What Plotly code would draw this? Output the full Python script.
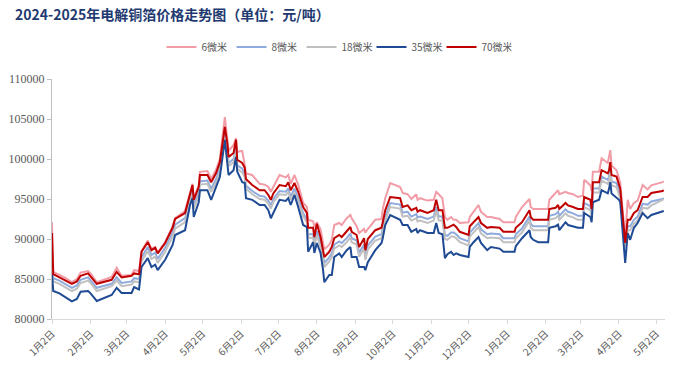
import plotly.graph_objects as go

dates = [
"2024-01-02","2024-01-03","2024-01-08","2024-01-12","2024-01-18","2024-01-22","2024-01-25","2024-01-31",
"2024-02-02","2024-02-07","2024-02-19","2024-02-23","2024-02-27","2024-03-06","2024-03-08","2024-03-12",
"2024-03-14","2024-03-19","2024-03-22","2024-03-25","2024-03-27","2024-04-02","2024-04-08","2024-04-10",
"2024-04-18","2024-04-22","2024-04-24","2024-04-25","2024-04-29","2024-04-30","2024-05-06","2024-05-09",
"2024-05-13","2024-05-16","2024-05-20","2024-05-22","2024-05-23","2024-05-27","2024-05-29","2024-05-30",
"2024-06-03","2024-06-05","2024-06-06","2024-06-11","2024-06-17","2024-06-21","2024-06-24","2024-06-26",
"2024-06-28","2024-07-03","2024-07-08","2024-07-10","2024-07-12","2024-07-15","2024-07-18","2024-07-22",
"2024-07-25","2024-07-26","2024-07-30","2024-07-31","2024-08-02","2024-08-05","2024-08-07","2024-08-08",
"2024-08-12","2024-08-14","2024-08-16","2024-08-20","2024-08-22","2024-08-26","2024-08-29","2024-08-30",
"2024-09-03","2024-09-05","2024-09-09","2024-09-10","2024-09-12","2024-09-18","2024-09-23","2024-09-24",
"2024-09-26","2024-09-30","2024-10-08","2024-10-10","2024-10-14","2024-10-17","2024-10-21","2024-10-22",
"2024-10-24","2024-10-30","2024-11-04","2024-11-06","2024-11-08","2024-11-11","2024-11-13","2024-11-15",
"2024-11-18","2024-11-20","2024-11-22","2024-11-25","2024-12-02","2024-12-03","2024-12-06","2024-12-10",
"2024-12-12","2024-12-17","2024-12-20","2024-12-27","2024-12-30","2025-01-08","2025-01-09","2025-01-14",
"2025-01-20","2025-01-21","2025-01-23","2025-01-27","2025-02-04","2025-02-05","2025-02-10","2025-02-12",
"2025-02-13","2025-02-18","2025-02-20","2025-02-24","2025-02-28","2025-03-04","2025-03-05","2025-03-10",
"2025-03-11","2025-03-12","2025-03-17","2025-03-19","2025-03-24","2025-03-25","2025-03-26","2025-03-27",
"2025-03-31","2025-04-02","2025-04-03","2025-04-07","2025-04-09","2025-04-11","2025-04-14","2025-04-17",
"2025-04-21","2025-04-25","2025-04-28","2025-05-07","2025-05-08",
]

um6 = [
92100,85900,85500,85200,84600,85000,85800,86000,
85700,84600,85250,86400,85400,85500,86100,86000,
88500,89800,88800,89000,88300,89600,91600,92600,
93500,96000,96900,95100,96700,98400,98500,97500,
98700,100000,105250,102500,101000,101750,102600,100900,
101000,99300,98200,98000,96900,96800,96500,95900,
96500,98000,97700,98000,96900,98000,96800,94500,
94000,92400,92200,91500,92100,91200,89500,88700,
89300,89900,91750,92000,91750,92600,93000,92600,
91600,90750,91250,90800,91250,92400,92500,93700,
95100,97000,96500,95750,95600,95000,95600,94900,
95100,94800,94900,95900,95600,95100,92750,92400,
92750,92400,92400,92000,92100,92750,93400,94250,
93400,92750,92750,92500,92100,92100,92750,94000,
95000,94000,93750,93750,93750,94900,95750,96100,
95600,95900,95750,95600,95250,95400,97400,96700,
96000,98400,98400,100100,99500,100200,101100,99200,
98600,97600,97000,90000,94900,93750,94500,94800,
96750,96200,96700,97100,97200,
]

um8 = [
87000,85100,84800,84400,83900,84200,84900,85200,
84800,83900,84400,85200,84500,84700,85100,85000,
87700,89000,88000,88300,87500,88900,90800,91800,
92600,95100,96000,94200,95800,97200,97300,96300,
97500,98900,103200,101200,99500,100000,101500,99200,
98800,98100,96700,96000,95400,95300,94800,94200,
95000,96000,95900,96300,95300,96300,95100,93200,
92500,90600,90600,89500,91000,89500,87900,87000,
87700,88200,89300,89700,89500,90100,90700,90100,
89800,88300,89300,87900,89200,90300,90600,91300,
92800,94500,94300,93300,93400,92800,93100,92700,
92800,92500,92800,94000,92800,92800,90500,90400,
90800,90800,90600,90100,89700,90800,91300,92000,
91200,90600,90700,90600,90100,90100,90600,91300,
92800,91900,91600,91600,91600,92900,93100,93400,
92900,93700,93400,93200,92900,92900,94500,94100,
93000,96300,96300,97800,97400,97800,98800,97200,
97000,96000,95500,89300,91600,91600,92400,92800,
94400,94300,94700,95000,95100,
]

um18 = [
86500,84700,84400,84000,83500,83800,84500,84800,
84500,83500,84100,84800,84100,84300,84700,84600,
87200,88500,87500,87800,87000,88400,90300,91300,
92100,94700,95600,93800,95400,96800,96900,95900,
97000,98400,102800,100800,99100,99600,101100,98800,
98300,97700,96300,95600,95000,94900,94400,93800,
94600,95600,95500,95900,94900,95800,94700,92800,
92100,90200,90100,89100,90500,89000,87400,86500,
87200,87700,88800,89200,89000,89600,90200,89600,
89300,87800,88800,87400,88700,89800,90100,90800,
92300,94000,93800,92800,92900,92300,92600,92200,
92300,92000,92300,93500,92300,92300,90000,89900,
90300,90300,90100,89600,89200,90300,90800,91500,
90700,90100,90200,90100,89600,89600,90100,90800,
92300,91400,91100,91100,91100,92400,92600,92900,
92400,93200,92900,92700,92400,92400,94000,93600,
92500,95800,95800,97300,96900,97300,98300,96700,
96500,95500,95000,89000,91100,91100,91900,92300,
93900,93800,94200,94900,95000,
]

um35 = [
85700,83500,83200,82800,82200,82500,83400,83500,
83200,82250,83000,83900,83250,83250,84000,83700,
86500,87600,86500,86800,86100,87400,89250,90500,
91100,94250,95100,92750,94600,96100,96100,94900,
96500,97750,102400,99900,98000,98600,100250,98400,
97100,97000,95100,94900,94250,94250,93600,92600,
93250,94900,94750,95100,94250,95500,94000,91750,
91500,88400,89600,88250,89500,88250,86100,84600,
85500,85500,87750,88200,87750,88600,89000,87750,
87750,86500,86500,86100,87100,88600,89500,90100,
91750,93000,92400,91750,91750,90900,91250,90750,
91100,90750,90750,92000,90750,90600,87600,88100,
88400,88000,88200,88000,87750,89000,89600,90250,
89500,88600,89000,88800,88400,88400,89100,90100,
91100,90250,89900,89600,89600,91400,91600,91800,
91100,92100,91750,91600,91400,91400,93250,92750,
92100,94600,94900,96100,95700,96300,97100,95700,
95100,94900,94600,87000,90750,89900,91400,92000,
93250,92600,93000,93400,93500,
]

um70 = [
90750,85600,85200,84900,84400,84700,85400,85700,
85300,84400,84900,85900,85200,85400,85700,85600,
88400,89600,88600,88900,88200,89500,91400,92500,
93250,95750,96750,94900,96500,98000,98000,97100,
98250,99600,104000,102000,100250,100750,102400,99900,
99500,98900,97500,96750,96100,96100,95500,94900,
95700,96750,96600,97100,96100,97000,95900,94000,
93250,91400,91400,90250,91900,90250,88600,87750,
88400,89000,90100,90500,90250,90900,91500,90900,
90500,89000,90100,88600,90000,91100,91400,92100,
93600,95250,95100,94000,94200,93600,93900,93400,
93600,93250,93600,94900,93600,93600,91400,91400,
91600,91800,91500,90900,90500,91600,92100,92750,
92000,91400,91500,91400,90900,90900,91400,92100,
93600,92750,92400,92400,92400,93750,93900,94250,
93750,94500,94200,94000,93750,93750,95250,94900,
93750,97100,97100,98600,98200,98600,99600,98000,
97800,96800,96300,89500,92400,92400,93250,93600,
95250,95250,95750,96000,96100,
]

names = ["6微米", "8微米", "18微米", "35微米", "70微米"]
series = [um6, um8, um18, um35, um70]
colors = ["#F19CA6", "#8FAADC", "#C0C0C0", "#1F4A94", "#C00000"]

tick_dates = ["2024-01-02","2024-02-02","2024-03-02","2024-04-02","2024-05-02","2024-06-02",
              "2024-07-02","2024-08-02","2024-09-02","2024-10-02","2024-11-02","2024-12-02",
              "2025-01-02","2025-02-02","2025-03-02","2025-04-02","2025-05-02"]
tick_text = ["1月2日","2月2日","3月2日","4月2日","5月2日","6月2日","7月2日","8月2日","9月2日",
             "10月2日","11月2日","12月2日","1月2日","2月2日","3月2日","4月2日","5月2日"]

fig = go.Figure()
for n, s, c in zip(names, series, colors):
    fig.add_trace(go.Scatter(x=dates, y=s, name=n, mode="lines",
                             line=dict(color=c, width=2)))

fig.update_layout(
    width=673, height=377,
    margin=dict(l=52, r=8, t=79, b=58, autoexpand=False),
    paper_bgcolor="white", plot_bgcolor="white",
    title=dict(text="<b>2024-2025年电解铜箔价格走势图（单位：元/吨）</b>",
               x=15/673, xanchor="left", y=1-15/377, yanchor="middle",
               font=dict(family="Noto Sans CJK SC", size=14, color="#1F3A70")),
    legend=dict(orientation="h", xref="container", x=0.5, xanchor="center",
                y=1+32/240, yanchor="middle",
                font=dict(family="Noto Sans CJK SC", size=10, color="#595959"),
                itemwidth=30, entrywidth=25, entrywidthmode="pixels",
                tracegroupgap=0, bgcolor="rgba(0,0,0,0)"),
    showlegend=True,
)

fig.update_xaxes(
    type="date", range=["2024-01-02", "2025-05-09"], automargin=False,
    tickmode="array", tickvals=tick_dates, ticktext=tick_text,
    tickangle=-45, ticks="outside", ticklen=4, tickcolor="#D9D9D9",
    showline=True, linecolor="#D9D9D9", linewidth=1, showgrid=False, zeroline=False,
    tickfont=dict(family="Noto Sans CJK SC", size=10, color="#595959"),
)
fig.update_yaxes(
    range=[80000, 110000], dtick=5000, tick0=80000, automargin=False,
    ticks="outside", ticklen=4, tickcolor="#BFBFBF",
    showline=True, linecolor="#BFBFBF", linewidth=1, showgrid=False, zeroline=False,
    tickfont=dict(family="Liberation Serif", size=12, color="#595959"),
    tickformat="d",
)

fig.write_html("out.html", config={"displayModeBar": False},
               post_script="document.body.style.margin='0';")
